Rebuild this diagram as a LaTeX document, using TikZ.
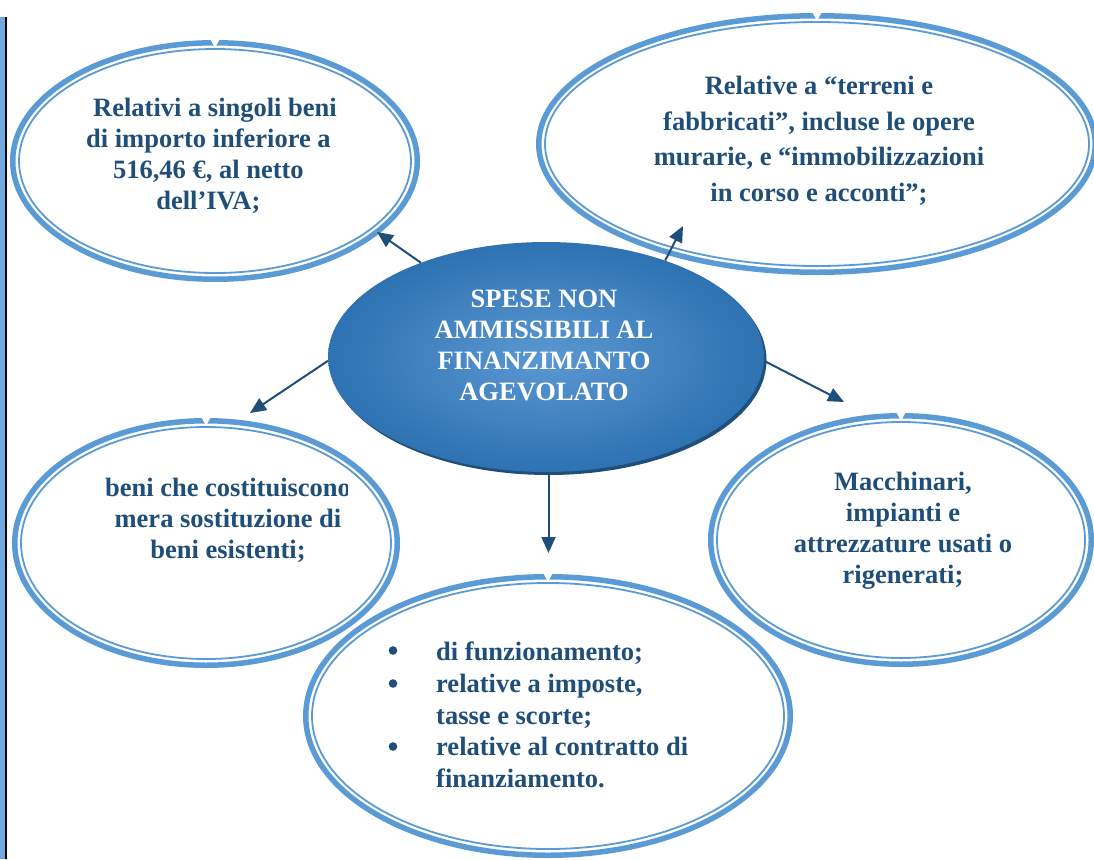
\documentclass[tikz,border=0pt]{standalone}
\usepackage{fontspec}
\setmainfont{Liberation Serif}
\usetikzlibrary{shapes.geometric,arrows.meta,calc}
\definecolor{lineblue}{HTML}{5B9BD5}
\definecolor{textblue}{HTML}{1F4E79}
\definecolor{midblue}{HTML}{2E72B2}
\definecolor{lightmid}{HTML}{5B98D2}
\definecolor{stripe}{HTML}{70A9DE}
\begin{document}
\begin{tikzpicture}[x=1pt,y=-1pt,
  bubble/.style={ellipse, draw=lineblue, line width=5.5pt, inner sep=0pt, outer sep=0pt},
  inring/.style={draw=lineblue, line width=1.8pt},
  btext/.style={font=\bfseries\fontsize{26.5}{31}\selectfont, text=textblue, align=center, inner sep=0pt, anchor=north},
  arr/.style={draw=textblue, line width=2pt, -{Triangle[length=16pt,width=14pt]}},
  notch/.style={fill=white},
  bulletdot/.style={fill=textblue},
]
\useasboundingbox[fill=white] (0,0) rectangle (1094,859);
% left page rule
\fill[stripe] (0,17) rectangle (4.5,859);
\fill[black] (4.5,17) rectangle (6.8,859);

% outer bubbles
\node[bubble, minimum width=404.5pt, minimum height=236.5pt] (tl) at (215,161) {};
\node[bubble, minimum width=556.5pt, minimum height=256.5pt] (tr) at (817,144) {};
\node[bubble, minimum width=382.5pt, minimum height=244.5pt] (ml) at (206,543) {};
\node[bubble, minimum width=380.5pt, minimum height=248.5pt] (mr) at (901,540) {};
\node[bubble, minimum width=484.5pt, minimum height=278.5pt] (bt) at (548,716) {};
\draw[inring] (tl.center) ellipse [x radius=196pt, y radius=112pt];
\draw[inring] (tr.center) ellipse [x radius=272pt, y radius=122pt];
\draw[inring] (ml.center) ellipse [x radius=185pt, y radius=116pt];
\draw[inring] (mr.center) ellipse [x radius=184pt, y radius=118pt];
\draw[inring] (bt.center) ellipse [x radius=236pt, y radius=133pt];
\foreach \b in {tl,tr,ml,mr,bt}{
  \fill[notch] ($(\b.north)+(-5,-4)$) -- ($(\b.north)+(5,-4)$) -- ($(\b.north)+(0,5)$) -- cycle;
}

% centre
\node[ellipse, fill=textblue, minimum width=436pt, minimum height=230pt, inner sep=0pt] (cs) at (548.5,360) {};
\node[ellipse, inner color=lightmid, outer color=midblue, minimum width=436pt, minimum height=230pt, inner sep=0pt] (c) at (546,357) {};

% texts
\node[btext] (tlt) at (211.7,98) {\makebox[6.6pt]{}Relativi a singoli beni\\di importo inferiore a\makebox[6.6pt]{}\\516,46 €, al netto\makebox[6.6pt]{}\\dell’IVA;\makebox[6.6pt]{}};
\node[btext, font=\bfseries\fontsize{26.5}{35.5}\selectfont] (trt) at (819,76) {Relative a “terreni e\\fabbricati”, incluse le opere\\murarie, e “immobilizzazioni\\in corso e acconti”;};
\begin{scope}
\clip (0,0) rectangle (347,859);
\node[btext] (mlt) at (228,478) {beni che costituiscono\\mera sostituzione di\\beni esistenti;};
\end{scope}
\node[btext] (mrt) at (903,472) {Macchinari,\\impianti e\\attrezzature usati o\\rigenerati;};
\node[btext, text=white] (ct) at (544,290) {SPESE NON\\AMMISSIBILI AL\\FINANZIMANTO\\AGEVOLATO};
\node[btext, anchor=north west, align=left, font=\bfseries\fontsize{26.5}{31.7}\selectfont] (btt) at (436,642)
 {di funzionamento;\\
  relative a imposte,\\
  tasse e scorte;\\
  relative al contratto di\\
  finanziamento.};
% list bullets
\fill[bulletdot] ($(btt.north west)+(-43,8.5)$) circle (4.3pt);
\fill[bulletdot] ($(btt.north west)+(-43,41.5)$) circle (4.3pt);
\fill[bulletdot] ($(btt.north west)+(-43,104.5)$) circle (4.3pt);

% arrows
\coordinate (t1) at (377,232);
\coordinate (t2) at (683,226);
\coordinate (t3) at (250,413);
\coordinate (t4) at (844,402);
\coordinate (t5) at (548.5,553);
\draw[arr] (c.143.9) -- (t1);
\draw[arr] (c.39.8) -- (t2);
\draw[arr] (c.181) -- (t3);
\draw[arr] (c.-1.5) -- (t4);
\draw[arr] (cs.south) -- (t5);
\end{tikzpicture}
\end{document}
